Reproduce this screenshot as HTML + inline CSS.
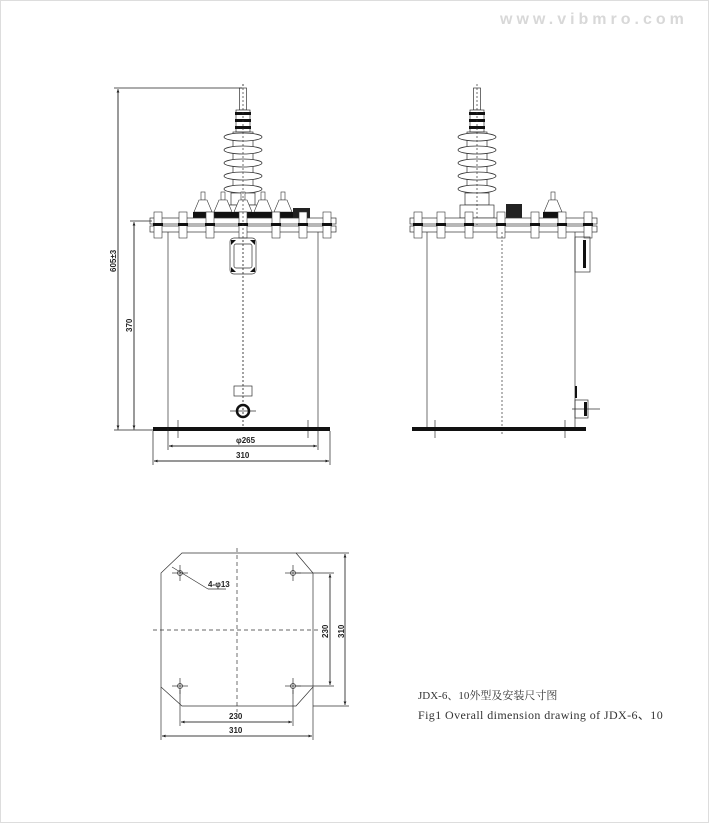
<!DOCTYPE html>
<html><head><meta charset="utf-8"><style>
html,body{margin:0;padding:0;background:#fff}
svg{display:block}
text{font-family:"Liberation Sans",Arial,sans-serif;font-weight:bold;font-size:8px;fill:#222}
</style></head><body>
<svg width="709" height="823" viewBox="0 0 709 823" xmlns="http://www.w3.org/2000/svg">
<rect x="0.5" y="0.5" width="708" height="822" fill="#fff" stroke="#ddd"/>
<text x="500" y="24" style="font-size:16px;fill:#d8d8d8;letter-spacing:4px;font-weight:bold">www.vibmro.com</text>
<defs>
<marker id="a" markerWidth="6" markerHeight="6" refX="5" refY="3" orient="auto"><path d="M0,1 L5,3 L0,5" fill="#222"/></marker>
<g id="ins">
 <rect x="-3.5" y="88" width="7" height="22" fill="#fff" stroke="#333" stroke-width="0.7"/>
 <rect x="-7" y="110" width="14" height="22" fill="#fff" stroke="#333" stroke-width="0.7"/>
 <rect x="-8" y="112" width="16" height="3" fill="#111"/>
 <rect x="-8" y="119" width="16" height="3" fill="#111"/>
 <rect x="-8" y="126" width="16" height="3" fill="#111"/>
 <rect x="-10" y="132" width="20" height="60" fill="#fff" stroke="#333" stroke-width="0.7"/>
 <ellipse cx="0" cy="137" rx="19" ry="4" fill="#fff" stroke="#333" stroke-width="0.8"/>
 <ellipse cx="0" cy="150" rx="19" ry="4" fill="#fff" stroke="#333" stroke-width="0.8"/>
 <ellipse cx="0" cy="163" rx="19" ry="4" fill="#fff" stroke="#333" stroke-width="0.8"/>
 <ellipse cx="0" cy="176" rx="19" ry="4" fill="#fff" stroke="#333" stroke-width="0.8"/>
 <ellipse cx="0" cy="189" rx="19" ry="4" fill="#fff" stroke="#333" stroke-width="0.8"/>
 <rect x="-12" y="193" width="24" height="12" fill="#fff" stroke="#333" stroke-width="0.7"/>
 <rect x="-17" y="205" width="34" height="13" fill="#fff" stroke="#333" stroke-width="0.7"/>
</g>
<g id="sb">
 <rect x="-2" y="192" width="4" height="8" fill="#fff" stroke="#333" stroke-width="0.6"/>
 <path d="M-4,200 L4,200 L9,212 L-9,212 Z" fill="#fff" stroke="#333" stroke-width="0.6"/>
 <rect x="-10" y="212" width="20" height="6" fill="#111"/>
</g>
<g id="bolt">
 <rect x="-4" y="212" width="8" height="26" fill="#fff" stroke="#333" stroke-width="0.6"/>
 <rect x="-5" y="223" width="10" height="3" fill="#111"/>
</g>
</defs>

<!-- LEFT VIEW -->
<line x1="243" y1="84" x2="243" y2="430" stroke="#333" stroke-width="0.7" stroke-dasharray="2,2"/>
<use href="#ins" x="243"/>
<use href="#sb" x="203"/><use href="#sb" x="223"/><use href="#sb" x="243"/><use href="#sb" x="263"/><use href="#sb" x="283"/>
<rect x="293" y="208" width="17" height="10" fill="#222"/>
<rect x="150" y="218" width="186" height="6" fill="#fff" stroke="#333" stroke-width="0.7"/>
<rect x="150" y="226" width="186" height="6" fill="#fff" stroke="#333" stroke-width="0.7"/>
<use href="#bolt" x="158"/><use href="#bolt" x="183"/><use href="#bolt" x="210"/><use href="#bolt" x="243"/><use href="#bolt" x="276"/><use href="#bolt" x="303"/><use href="#bolt" x="327"/>
<line x1="243" y1="84" x2="243" y2="430" stroke="#333" stroke-width="0.7" stroke-dasharray="2,2"/>
<g stroke="#333" stroke-width="0.7" fill="none">
 <line x1="168" y1="232" x2="168" y2="428"/><line x1="318" y1="232" x2="318" y2="428"/>
 <rect x="230" y="238" width="26" height="36" rx="4"/>
 <rect x="234" y="244" width="18" height="24" rx="2"/>
 <rect x="234" y="386" width="18" height="10"/>
 <line x1="230" y1="411" x2="256" y2="411"/>
 <line x1="178" y1="420" x2="178" y2="438"/><line x1="308" y1="420" x2="308" y2="438"/>
</g>
<g fill="#111"><path d="M231,240 l5,0 l-5,5z"/><path d="M255,240 l-5,0 l5,5z"/><path d="M231,272 l5,0 l-5,-5z"/><path d="M255,272 l-5,0 l5,-5z"/></g>
<circle cx="243" cy="411" r="6" fill="none" stroke="#111" stroke-width="2.5"/>
<rect x="153" y="427" width="177" height="4" fill="#111"/>
<g stroke="#222" stroke-width="0.7" fill="none">
 <line x1="114" y1="88" x2="242" y2="88"/>
 <line x1="118" y1="430" x2="118" y2="89" marker-end="url(#a)"/>
 <line x1="118" y1="90" x2="118" y2="429" marker-end="url(#a)"/>
 <line x1="130" y1="221" x2="152" y2="221"/>
 <line x1="134" y1="430" x2="134" y2="222" marker-end="url(#a)"/>
 <line x1="134" y1="223" x2="134" y2="429" marker-end="url(#a)"/>
 <line x1="114" y1="430" x2="153" y2="430"/>
 <line x1="168" y1="428" x2="168" y2="450"/><line x1="318" y1="428" x2="318" y2="450"/>
 <line x1="169" y1="446" x2="317" y2="446" marker-end="url(#a)"/>
 <line x1="317" y1="446" x2="169" y2="446" marker-end="url(#a)"/>
 <line x1="153" y1="431" x2="153" y2="465"/><line x1="330" y1="431" x2="330" y2="465"/>
 <line x1="154" y1="461" x2="329" y2="461" marker-end="url(#a)"/>
 <line x1="329" y1="461" x2="154" y2="461" marker-end="url(#a)"/>
</g>
<text x="236" y="443">φ265</text>
<text x="236" y="458">310</text>
<text transform="translate(116,272) rotate(-90)">605±3</text>
<text transform="translate(132,332) rotate(-90)">370</text>

<!-- RIGHT VIEW -->
<use href="#ins" x="477"/>
<line x1="477" y1="84" x2="477" y2="225" stroke="#333" stroke-width="0.7" stroke-dasharray="2,2"/>
<rect x="506" y="204" width="16" height="14" fill="#222"/>
<use href="#sb" x="553"/>
<rect x="410" y="218" width="187" height="6" fill="#fff" stroke="#333" stroke-width="0.7"/>
<rect x="410" y="226" width="187" height="6" fill="#fff" stroke="#333" stroke-width="0.7"/>
<use href="#bolt" x="418"/><use href="#bolt" x="441"/><use href="#bolt" x="469"/><use href="#bolt" x="501"/><use href="#bolt" x="535"/><use href="#bolt" x="562"/><use href="#bolt" x="588"/>
<line x1="502" y1="232" x2="502" y2="434" stroke="#333" stroke-width="0.7" stroke-dasharray="2,2"/>
<g stroke="#333" stroke-width="0.7" fill="none">
 <line x1="427" y1="232" x2="427" y2="428"/><line x1="575" y1="232" x2="575" y2="428"/>
 <rect x="575" y="237" width="15" height="35"/>
 <rect x="575" y="400" width="13" height="18"/>
 <line x1="572" y1="409" x2="600" y2="409"/>
 <line x1="435" y1="420" x2="435" y2="438"/><line x1="565" y1="420" x2="565" y2="438"/>
</g>
<rect x="583" y="240" width="3" height="28" fill="#111"/>
<rect x="575" y="386" width="2" height="12" fill="#111"/>
<rect x="584" y="402" width="3" height="14" fill="#111"/>
<rect x="412" y="427" width="174" height="4" fill="#111"/>

<!-- PLAN VIEW -->
<g stroke="#333" stroke-width="0.7" fill="none">
 <path d="M182,553 L296,553 L313,573 L313,687 L296,706 L182,706 L161,687 L161,573 Z"/>
 <line x1="237" y1="548" x2="237" y2="712" stroke-dasharray="4,3"/>
 <line x1="153" y1="630" x2="320" y2="630" stroke-dasharray="4,3"/>
 <circle cx="180" cy="573" r="2.5"/><line x1="172" y1="573" x2="188" y2="573"/><line x1="180" y1="565" x2="180" y2="581"/>
 <circle cx="293" cy="573" r="2.5"/><line x1="285" y1="573" x2="301" y2="573"/><line x1="293" y1="565" x2="293" y2="581"/>
 <circle cx="180" cy="686" r="2.5"/><line x1="172" y1="686" x2="188" y2="686"/><line x1="180" y1="678" x2="180" y2="694"/>
 <circle cx="293" cy="686" r="2.5"/><line x1="285" y1="686" x2="301" y2="686"/><line x1="293" y1="678" x2="293" y2="694"/>
 <line x1="172" y1="567" x2="208" y2="589"/><line x1="208" y1="589" x2="226" y2="589"/>
 <line x1="296" y1="553" x2="349" y2="553"/><line x1="313" y1="706" x2="349" y2="706"/>
 <line x1="345" y1="554" x2="345" y2="705" marker-end="url(#a)"/>
 <line x1="345" y1="705" x2="345" y2="554" marker-end="url(#a)"/>
 <line x1="296" y1="573" x2="334" y2="573"/><line x1="296" y1="686" x2="334" y2="686"/>
 <line x1="330" y1="574" x2="330" y2="685" marker-end="url(#a)"/>
 <line x1="330" y1="685" x2="330" y2="574" marker-end="url(#a)"/>
 <line x1="180" y1="690" x2="180" y2="726"/><line x1="293" y1="690" x2="293" y2="726"/>
 <line x1="181" y1="722" x2="292" y2="722" marker-end="url(#a)"/>
 <line x1="292" y1="722" x2="181" y2="722" marker-end="url(#a)"/>
 <line x1="161" y1="687" x2="161" y2="740"/><line x1="313" y1="687" x2="313" y2="740"/>
 <line x1="162" y1="736" x2="312" y2="736" marker-end="url(#a)"/>
 <line x1="312" y1="736" x2="162" y2="736" marker-end="url(#a)"/>
</g>
<text x="208" y="587">4-φ13</text>
<text x="229" y="719">230</text>
<text x="229" y="733">310</text>
<text transform="translate(328,638) rotate(-90)">230</text>
<text transform="translate(344,638) rotate(-90)">310</text>

<text x="418" y="699" style="font-family:'Liberation Serif','Noto Serif CJK SC',serif;font-weight:normal;font-size:11px;fill:#333">JDX-6、10外型及安装尺寸图</text>
<text x="418" y="719" style="font-family:'Liberation Serif',serif;font-weight:normal;font-size:12px;letter-spacing:0.4px;fill:#333">Fig1 Overall dimension drawing of JDX-6、10</text>
</svg>
</body></html>
